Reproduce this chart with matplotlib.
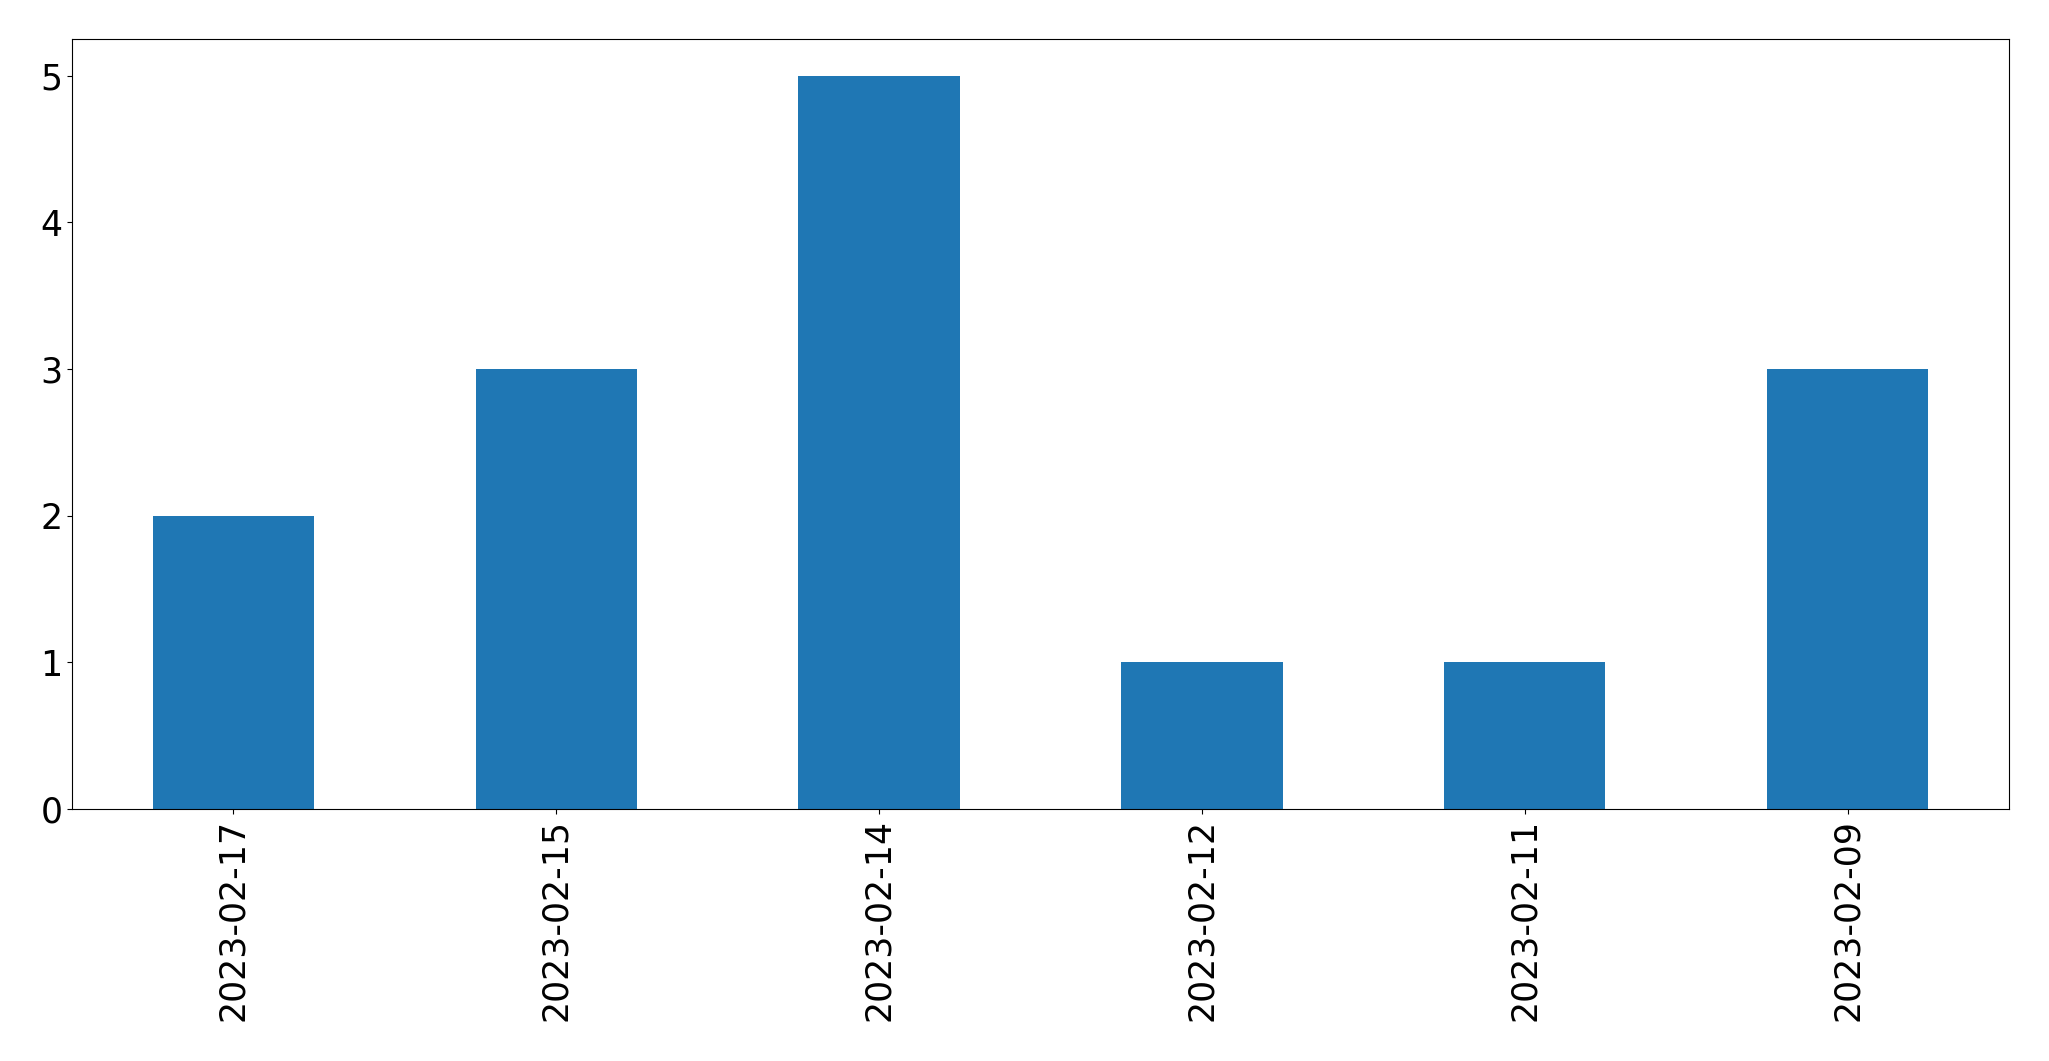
import matplotlib
matplotlib.use("Agg")
import matplotlib.pyplot as plt
import pandas as pd

dates = ['2023-02-17', '2023-02-15', '2023-02-14', '2023-02-12', '2023-02-11', '2023-02-09']
counts = [2, 3, 5, 1, 1, 3]

s = pd.Series(counts, index=dates)

fig = plt.figure(figsize=(20.49, 10.61), dpi=100)
ax = fig.add_axes([72 / 2049, 1 - 809 / 1061, (2009 - 72) / 2049, (809 - 39) / 1061])
s.plot(kind='bar', ax=ax, color='#1f77b4')
ax.tick_params(axis='both', labelsize=25)
plt.savefig('out.png', dpi=100)
